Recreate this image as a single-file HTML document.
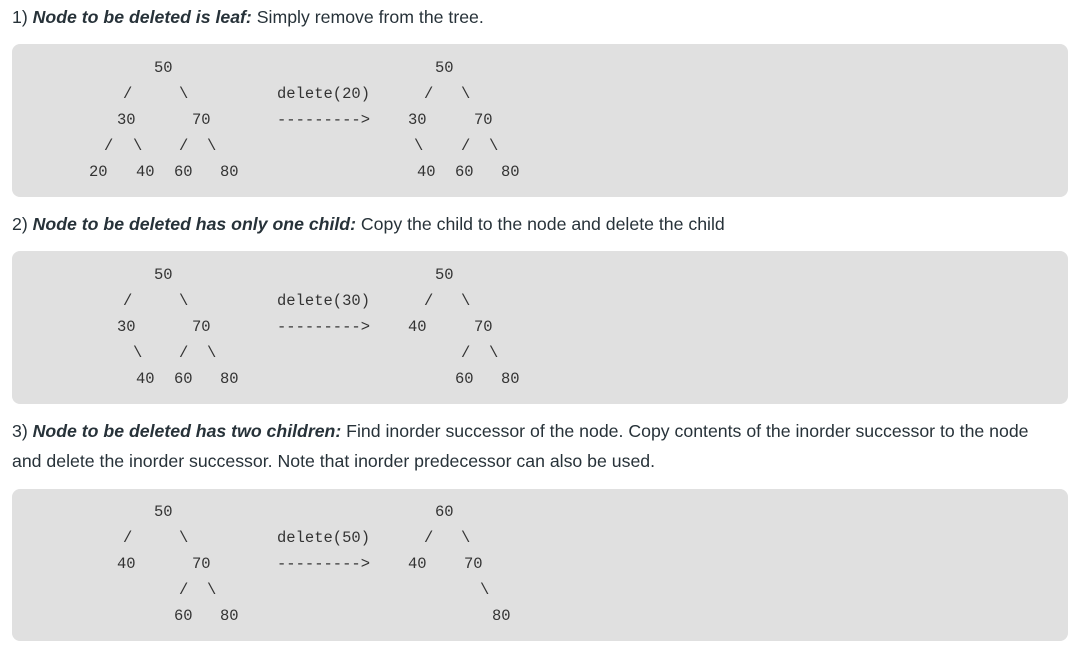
<!DOCTYPE html>
<html><head><meta charset="utf-8"><style>
body{margin:0;width:1090px;height:653px;background:#fff;position:relative;overflow:hidden;font-family:"Liberation Sans",sans-serif;color:#273239}
.h{position:absolute;left:12px;font-size:17.7px;line-height:30px;white-space:nowrap}
.box{position:absolute;left:12px;width:1056px;background:#e0e0e0;border-radius:8px}
.t{position:absolute;font-family:"Liberation Mono",monospace;font-size:15.5px;color:#333;line-height:20px;white-space:pre;transform:translateY(-10px)}
</style></head><body>
<div class="h" style="top:2px">1) <b><i>Node to be deleted is leaf:</i></b> Simply remove from the tree.</div>
<div class="box" style="top:44px;height:153px"></div>
<div class="h" style="top:209px">2) <b><i>Node to be deleted has only one child:</i></b> Copy the child to the node and delete the child</div>
<div class="box" style="top:251px;height:153px"></div>
<div class="h" style="top:416px">3) <b><i>Node to be deleted has two children:</i></b> Find inorder successor of the node. Copy contents of the inorder successor to the node</div>
<div class="h" style="top:446px">and delete the inorder successor. Note that inorder predecessor can also be used.</div>
<div class="box" style="top:489px;height:152px"></div>

<!-- box1 -->
<span class="t" style="left:154px;top:68px">50</span>
<span class="t" style="left:123px;top:94px">/</span><span class="t" style="left:179px;top:94px">\</span>
<span class="t" style="left:277px;top:94px">delete(20)</span>
<span class="t" style="left:435px;top:68px">50</span>
<span class="t" style="left:424px;top:94px">/</span><span class="t" style="left:461px;top:94px">\</span>
<span class="t" style="left:117px;top:120px">30</span><span class="t" style="left:192px;top:120px">70</span>
<span class="t" style="left:277px;top:120px">---------&gt;</span>
<span class="t" style="left:408px;top:120px">30</span><span class="t" style="left:474px;top:120px">70</span>
<span class="t" style="left:104px;top:146px">/</span><span class="t" style="left:133px;top:146px">\</span><span class="t" style="left:179px;top:146px">/</span><span class="t" style="left:207px;top:146px">\</span>
<span class="t" style="left:414px;top:146px">\</span><span class="t" style="left:461px;top:146px">/</span><span class="t" style="left:489px;top:146px">\</span>
<span class="t" style="left:89px;top:172px">20</span><span class="t" style="left:136px;top:172px">40</span><span class="t" style="left:174px;top:172px">60</span><span class="t" style="left:220px;top:172px">80</span>
<span class="t" style="left:417px;top:172px">40</span><span class="t" style="left:455px;top:172px">60</span><span class="t" style="left:501px;top:172px">80</span>

<!-- box2 -->
<span class="t" style="left:154px;top:275px">50</span>
<span class="t" style="left:123px;top:301px">/</span><span class="t" style="left:179px;top:301px">\</span>
<span class="t" style="left:277px;top:301px">delete(30)</span>
<span class="t" style="left:435px;top:275px">50</span>
<span class="t" style="left:424px;top:301px">/</span><span class="t" style="left:461px;top:301px">\</span>
<span class="t" style="left:117px;top:327px">30</span><span class="t" style="left:192px;top:327px">70</span>
<span class="t" style="left:277px;top:327px">---------&gt;</span>
<span class="t" style="left:408px;top:327px">40</span><span class="t" style="left:474px;top:327px">70</span>
<span class="t" style="left:133px;top:353px">\</span><span class="t" style="left:179px;top:353px">/</span><span class="t" style="left:207px;top:353px">\</span>
<span class="t" style="left:461px;top:353px">/</span><span class="t" style="left:489px;top:353px">\</span>
<span class="t" style="left:136px;top:379px">40</span><span class="t" style="left:174px;top:379px">60</span><span class="t" style="left:220px;top:379px">80</span>
<span class="t" style="left:455px;top:379px">60</span><span class="t" style="left:501px;top:379px">80</span>

<!-- box3 -->
<span class="t" style="left:154px;top:512px">50</span>
<span class="t" style="left:123px;top:538px">/</span><span class="t" style="left:179px;top:538px">\</span>
<span class="t" style="left:277px;top:538px">delete(50)</span>
<span class="t" style="left:435px;top:512px">60</span>
<span class="t" style="left:424px;top:538px">/</span><span class="t" style="left:461px;top:538px">\</span>
<span class="t" style="left:117px;top:564px">40</span><span class="t" style="left:192px;top:564px">70</span>
<span class="t" style="left:277px;top:564px">---------&gt;</span>
<span class="t" style="left:408px;top:564px">40</span><span class="t" style="left:464px;top:564px">70</span>
<span class="t" style="left:179px;top:590px">/</span><span class="t" style="left:207px;top:590px">\</span>
<span class="t" style="left:480px;top:590px">\</span>
<span class="t" style="left:174px;top:616px">60</span><span class="t" style="left:220px;top:616px">80</span>
<span class="t" style="left:492px;top:616px">80</span>
</body></html>
